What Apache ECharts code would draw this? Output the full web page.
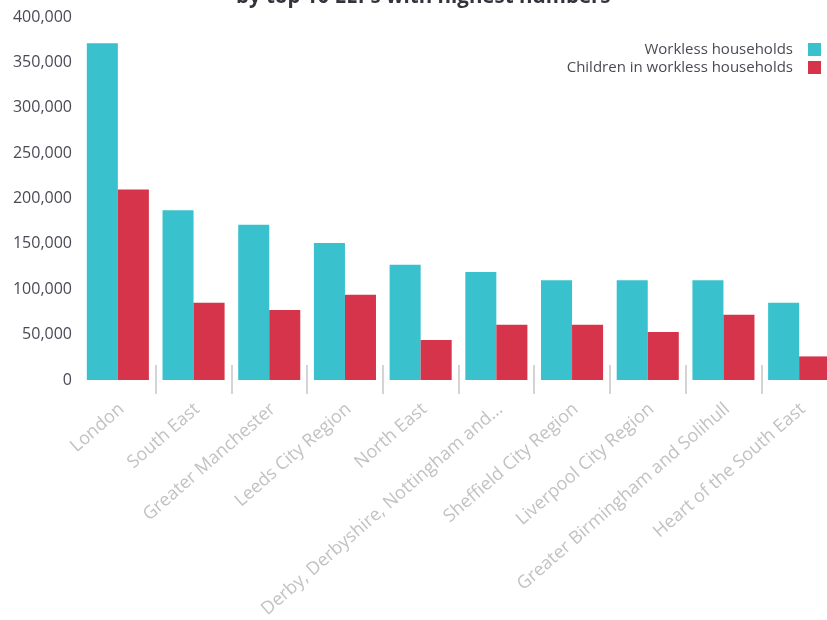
<!DOCTYPE html>
<html>
<head>
<meta charset="utf-8">
<style>
  html, body { margin: 0; padding: 0; background: #fff; overflow: hidden; }
  #chart { width: 838px; height: 620px; }
</style>
<script src="https://cdn.jsdelivr.net/npm/echarts@6/dist/echarts.min.js"></script>
</head>
<body>
<div id="chart"></div>
<script>
// Local Enterprise Partnerships, ordered by number of workless households
const categories = [
  'London',
  'South East',
  'Greater Manchester',
  'Leeds City Region',
  'North East',
  'Derby, Derbyshire, Nottingham and Nottinghamshire',
  'Sheffield City Region',
  'Liverpool City Region',
  'Greater Birmingham and Solihull',
  'Heart of the South East'
];
const worklessHouseholds = [371000, 187000, 171000, 151000, 127000, 119000, 110000, 110000, 110000, 85000];
const childrenInWorkless = [210000, 85000, 77000, 94000, 44000, 61000, 61000, 53000, 72000, 26000];
const seriesNames = ['Workless households', 'Children in workless households'];
const yTicks = [0, 50000, 100000, 150000, 200000, 250000, 300000, 350000, 400000];
const titleText = 'by top 10 LEPs with highest numbers';

const FONT = '"Open Sans", Lato, sans-serif';
const fmt = v => v.toLocaleString('en-GB');
const shorten = s => s.length > 36 ? s.slice(0, 33).trimEnd() + '...' : s;

const chart = echarts.init(document.getElementById('chart'));
chart.setOption({
  animation: false,
  color: ['#39c2ce', '#d6344a'],
  title: {
    text: titleText,
    left: 231,
    top: -18,
    textStyle: { fontFamily: FONT, fontSize: 20.5, fontWeight: 'bold', color: '#33333d' }
  },
  legend: {
    orient: 'vertical',
    right: 12,
    top: 37,
    align: 'right',
    itemWidth: 13,
    itemHeight: 13,
    itemGap: 3,
    icon: 'rect',
    textStyle: { fontFamily: FONT, fontSize: 15, color: '#4a4a55', padding: [0, 10, 0, 0] },
    data: seriesNames
  },
  grid: { left: 80, top: 17, bottom: 240, right: 1, containLabel: false, outerBoundsMode: 'none' },
  xAxis: [
    {
      type: 'category',
      data: categories,
      position: 'bottom',
      axisLine: { show: false },
      axisTick: {
        show: true, inside: false, length: 14,
        interval: (i) => i > 0,
        lineStyle: { color: '#c6c6c6', width: 1.5 }
      },
      axisLabel: {
        rotate: 41,
        margin: 30,
        padding: [0, -5, 0, 0],
        interval: 0,
        fontFamily: FONT,
        fontSize: 18,
        color: '#c2c2c2',
        formatter: shorten
      }
    },
    {
      type: 'category',
      data: categories,
      position: 'bottom',
      gridIndex: 0,
      axisLine: { show: false },
      axisTick: {
        show: true, inside: true, length: 15,
        interval: (i) => i > 0,
        lineStyle: { color: '#c6c6c6', width: 1.5 }
      },
      axisLabel: { show: false }
    }
  ],
  yAxis: {
    type: 'value',
    min: yTicks[0],
    max: yTicks[yTicks.length - 1],
    interval: yTicks[1] - yTicks[0],
    axisLine: { show: false },
    axisTick: { show: false },
    splitLine: { show: false },
    axisLabel: {
      margin: 8,
      fontFamily: FONT,
      fontSize: 16,
      color: '#4a4a55',
      formatter: fmt
    }
  },
  series: [
    {
      name: seriesNames[0],
      type: 'bar',
      xAxisIndex: 0,
      data: worklessHouseholds,
      barGap: '0%',
      barCategoryGap: '18%'
    },
    {
      name: seriesNames[1],
      type: 'bar',
      xAxisIndex: 0,
      data: childrenInWorkless,
      barGap: '0%',
      barCategoryGap: '18%'
    }
  ]
});
</script>
</body>
</html>
